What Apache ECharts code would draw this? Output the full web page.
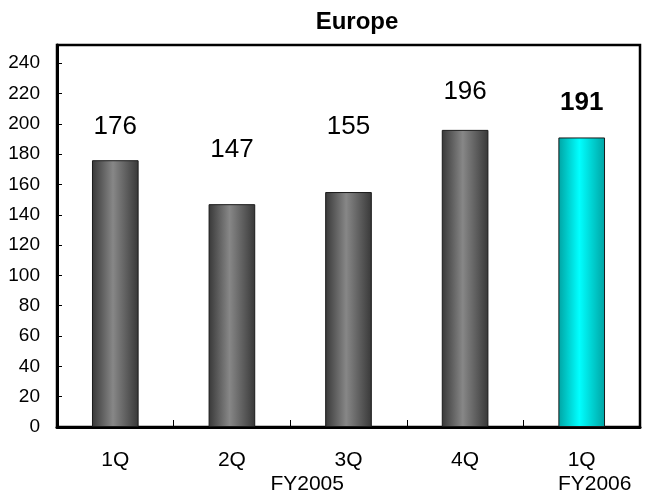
<!DOCTYPE html>
<html>
<head>
<meta charset="utf-8">
<script src="https://cdn.jsdelivr.net/npm/echarts@6/dist/echarts.min.js"></script>
<style>
html,body{margin:0;padding:0;background:#fff;}
#chart{width:645px;height:498px;}
</style>
</head>
<body>
<div id="chart"></div>
<script>
// ---- data ----
var categories = ['1Q', '2Q', '3Q', '4Q', '1Q'];
var values = [176, 147, 155, 196, 191];
var fiscalYears = ['FY2005', 'FY2006'];
var yTicks = [0, 20, 40, 60, 80, 100, 120, 140, 160, 180, 200, 220, 240];
var chartTitle = 'Europe';

// ---- styling ----
var labelGap = [20, 41, 52, 25, 22];
var FONT = '"Liberation Sans", Arial, sans-serif';
var grayGrad = new echarts.graphic.LinearGradient(0, 0, 1, 0, [
  {offset: 0, color: '#383838'},
  {offset: 0.45, color: '#878787'},
  {offset: 1, color: '#383838'}
]);
var cyanGrad = new echarts.graphic.LinearGradient(0, 0, 1, 0, [
  {offset: 0, color: '#00a4a4'},
  {offset: 0.45, color: '#00ffff'},
  {offset: 1, color: '#00a4a4'}
]);

var chart = echarts.init(document.getElementById('chart'), null, {renderer: 'canvas'});
var lastIdx = values.length - 1;
var seriesData = values.map(function (v, i) {
  return {
    value: v,
    itemStyle: {color: i === lastIdx ? cyanGrad : grayGrad},
    label: {
      distance: labelGap[i],
      fontWeight: i === lastIdx ? 'bold' : 'normal'
    }
  };
});

chart.setOption({
  animation: false,
  backgroundColor: '#ffffff',
  title: {
    text: chartTitle,
    left: 352, textAlign: 'center', top: 5,
    textStyle: {fontFamily: FONT, fontSize: 24, fontWeight: 'bold', color: '#000'}
  },
  grid: {left: 57, right: 5, top: 45, bottom: 71, show: true, borderColor: '#000', borderWidth: 2.5, backgroundColor: 'transparent'},
  xAxis: {
    type: 'category',
    data: categories,
    boundaryGap: true,
    axisLine: {lineStyle: {color: '#000', width: 3}},
    axisTick: {show: true, inside: true, length: 7, interval: 0, lineStyle: {color: '#000', width: 1}},
    axisLabel: {margin: 23, fontFamily: FONT, fontSize: 21, color: '#000', interval: 0}
  },
  yAxis: {
    type: 'value',
    min: 0, max: 252, interval: 20,
    splitLine: {show: false},
    axisLine: {show: true, lineStyle: {color: '#000', width: 3}},
    axisTick: {show: true, inside: true, length: 5, lineStyle: {color: '#000', width: 1}},
    axisLabel: {
      margin: 17, fontFamily: FONT, fontSize: 19, color: '#000', showMaxLabel: true,
      formatter: function (v) { return yTicks.indexOf(v) >= 0 ? String(v) : ''; }
    }
  },
  series: [{
    type: 'bar',
    data: seriesData,
    barWidth: '40%',
    itemStyle: {borderColor: '#1a1a1a', borderWidth: 1},
    label: {
      show: true, position: 'top',
      fontFamily: FONT, fontSize: 26, color: '#000'
    }
  }]
});

// fiscal-year captions beneath the category labels
var p2 = chart.convertToPixel({xAxisIndex: 0}, 1);
var p3 = chart.convertToPixel({xAxisIndex: 0}, 2);
var p5 = chart.convertToPixel({xAxisIndex: 0}, 4);
var yBase = chart.convertToPixel({yAxisIndex: 0}, 0);
chart.setOption({
  graphic: [
    {type: 'text', x: (p2 + p3) / 2 + 17, y: yBase + 57,
     style: {text: fiscalYears[0], font: '21px ' + FONT, fill: '#000', textAlign: 'center', textVerticalAlign: 'middle'}},
    {type: 'text', x: p5 + 13, y: yBase + 57,
     style: {text: fiscalYears[1], font: '21px ' + FONT, fill: '#000', textAlign: 'center', textVerticalAlign: 'middle'}}
  ]
});
</script>
</body>
</html>
